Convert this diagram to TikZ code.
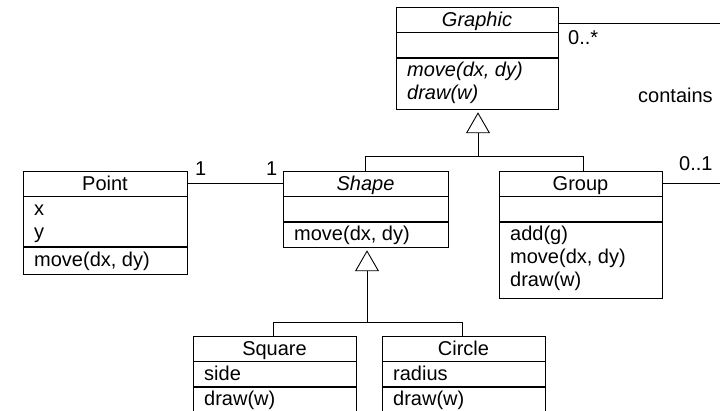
\documentclass[tikz,border=0pt]{standalone}
\usepackage{fontspec}
\setmainfont{Liberation Sans}
\usetikzlibrary{arrows.meta}
\newcommand{\umlfont}{\fontsize{20}{24}\selectfont}
\tikzset{
  cls/.style={draw, line width=0.9pt, inner sep=0pt, minimum width=163pt, minimum height=25pt,
              text height=14.5pt, text depth=0pt, font=\umlfont},
  comp/.style={draw, line width=0.9pt, inner sep=0pt, minimum width=163pt, anchor=north},
  txt/.style={anchor=base west, inner sep=0pt, font=\umlfont},
  itxt/.style={anchor=base west, inner sep=0pt, font=\umlfont\itshape},
  conn/.style={line width=0.9pt},
  gen/.style={line width=0.9pt, -{Triangle[open, length=21pt, width=24pt]}, shorten >=2pt},
}
\begin{document}
\begin{tikzpicture}[x=1pt,y=-1pt]
\useasboundingbox (0,0) rectangle (720,411);
\clip (0,0) rectangle (720,411);

% Graphic
\node[cls, minimum width=162pt, font=\umlfont\itshape] (graphicT) at (477,19.5) {Graphic};
\node[comp, minimum width=162pt, minimum height=25pt] (graphicA) at (graphicT.south) {};
\node[comp, minimum width=162pt, minimum height=51pt] (graphicM) at (graphicA.south) {};
\node[itxt] (graphicM1) at (407,77) {move(dx, dy)};
\node[itxt] (graphicM2) at (407,100) {draw(w)};

% Point
\node[cls, minimum width=164pt] (pointT) at (105,183.5) {Point};
\node[comp, minimum width=164pt, minimum height=50pt] (pointA) at (pointT.south) {};
\node[comp, minimum width=164pt, minimum height=27pt] (pointM) at (pointA.south) {};
\node[txt] (pointA1) at (34,216) {x};
\node[txt] (pointA2) at (34,239) {y};
\node[txt] (pointM1) at (34,267) {move(dx, dy)};

% Shape
\node[cls, minimum width=165pt, font=\umlfont\itshape] (shapeT) at (365.5,183.5) {Shape};
\node[comp, minimum width=165pt, minimum height=25pt] (shapeA) at (shapeT.south) {};
\node[comp, minimum width=165pt, minimum height=25pt] (shapeM) at (shapeA.south) {};
\node[txt] (shapeM1) at (294,241) {move(dx, dy)};

% Group
\node[cls] (groupT) at (580.5,183.5) {Group};
\node[comp, minimum height=25pt] (groupA) at (groupT.south) {};
\node[comp, minimum height=76pt] (groupM) at (groupA.south) {};
\node[txt] (groupM1) at (510,241) {add(g)};
\node[txt] (groupM2) at (510,264) {move(dx, dy)};
\node[txt] (groupM3) at (510,287) {draw(w)};

% Square
\node[cls] (squareT) at (274.5,348.5) {Square};
\node[comp, minimum height=25pt] (squareA) at (squareT.south) {};
\node[comp, minimum height=40pt] (squareM) at (squareA.south) {};
\node[txt] (squareA1) at (204,381) {side};
\node[txt] (squareM1) at (204,406) {draw(w)};

% Circle
\node[cls] (circleT) at (463.5,348.5) {Circle};
\node[comp, minimum height=25pt] (circleA) at (circleT.south) {};
\node[comp, minimum height=40pt] (circleM) at (circleA.south) {};
\node[txt] (circleA1) at (393,381) {radius};
\node[txt] (circleM1) at (393,406) {draw(w)};

% generalisation: Shape, Group -> Graphic
\coordinate (j1) at ([xshift=1pt]graphicM.south |- 0,156);
\draw[conn] (shapeT.north) -- (shapeT.north |- j1) -- ([xshift=2.5pt]groupT.north |- j1) -- ([xshift=2.5pt]groupT.north);
\draw[gen] (j1) -- ([xshift=1pt]graphicM.south);

% generalisation: Square, Circle -> Shape
\coordinate (j2) at ([xshift=1.5pt]shapeM.south |- 0,322);
\draw[conn] ([xshift=-1.5pt]squareT.north) -- ([xshift=-1.5pt]squareT.north |- j2) -- ([xshift=-1.5pt]circleT.north |- j2) -- ([xshift=-1.5pt]circleT.north);
\draw[gen] (j2) -- ([xshift=1.5pt]shapeM.south);

% association Point -- Shape
\draw[conn] (pointT.east) -- (shapeT.west);
\node[txt] (m1) at (195,176) {1};
\node[txt] (m2) at (266,176) {1};

% contains association (continues off the picture)
\coordinate (gEnd) at (722,23);
\coordinate (grEnd) at (722,183.5);
\draw[conn] ([yshift=-3.5pt]graphicT.east) -- (gEnd);
\draw[conn] (groupT.east) -- (grEnd);
\node[txt] (mStar) at (568,45) {0..*};
\node[txt] (mOne) at (679,171) {0..1};
\node[txt] (lContains) at (638,103) {contains};
\end{tikzpicture}
\end{document}
